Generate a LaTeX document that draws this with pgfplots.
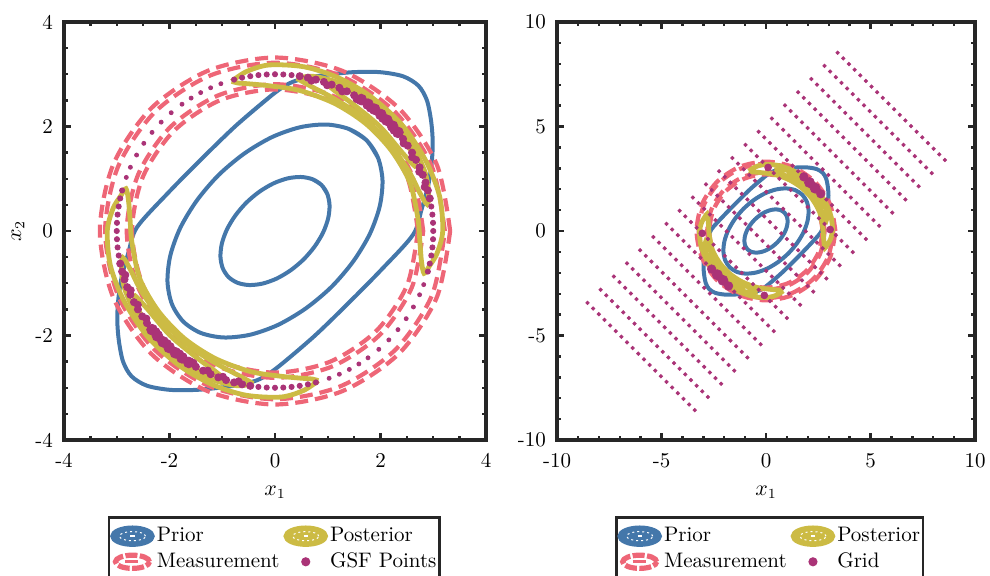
\documentclass[border=0pt]{standalone}
\usepackage{pgfplots}
\pgfplotsset{compat=1.18}
\usepackage{pgfplotstable}
\definecolor{tolblue}{HTML}{4477AA}
\definecolor{tolyellow}{HTML}{CCBB44}
\definecolor{tolred}{HTML}{EE6677}
\definecolor{tolpurple}{HTML}{AA3377}

% prior contours
\pgfplotstableread[row sep=\\]{x y\\
0.991 0.711\\ 0.881 0.881\\ 0.711 0.991\\ 0.492 1.034\\ 0.239 1.007\\ -0.030 0.911\\ -0.296 0.752\\ -0.543 0.543\\ -0.752 0.296\\ -0.911 0.030\\ -1.007 -0.239\\ -1.034 -0.492\\ -0.991 -0.711\\ -0.881 -0.881\\ -0.711 -0.991\\ -0.492 -1.034\\ -0.239 -1.007\\ 0.030 -0.911\\ 0.296 -0.752\\ 0.543 -0.543\\ 0.752 -0.296\\ 0.911 -0.030\\ 1.007 0.239\\ 1.034 0.492\\ 0.991 0.711\\ 0.881 0.881\\ 0.711 0.991\\
}\priorA
\pgfplotstableread[row sep=\\]{x y\\
1.953 1.401\\ 1.736 1.736\\ 1.401 1.953\\ 0.970 2.038\\ 0.471 1.985\\ -0.059 1.796\\ -0.583 1.482\\ -1.070 1.070\\ -1.482 0.583\\ -1.796 0.059\\ -1.985 -0.471\\ -2.038 -0.970\\ -1.953 -1.401\\ -1.736 -1.736\\ -1.401 -1.953\\ -0.970 -2.038\\ -0.471 -1.985\\ 0.059 -1.796\\ 0.583 -1.482\\ 1.070 -1.070\\ 1.482 -0.583\\ 1.796 -0.059\\ 1.985 0.471\\ 2.038 0.970\\ 1.953 1.401\\ 1.736 1.736\\ 1.401 1.953\\
}\priorB
\pgfplotstableread[row sep=\\]{x y\\
-1.386 1.386\\ -0.742 2.015\\ -0.057 2.602\\ 0.28 2.83\\ 0.60 2.93\\ 0.98 2.99\\ 1.48 3.04\\ 1.99 3.04\\ 2.43 2.96\\ 2.72 2.78\\ 2.88 2.50\\ 2.96 2.10\\ 2.99 1.70\\ 2.97 1.30\\ 2.90 0.85\\ 2.78 0.42\\ 2.617 -0.071\\ 2.015 -0.742\\ 1.386 -1.386\\ 0.742 -2.015\\ 0.057 -2.602\\ -0.28 -2.83\\ -0.60 -2.93\\ -0.98 -2.99\\ -1.48 -3.04\\ -1.99 -3.04\\ -2.43 -2.96\\ -2.72 -2.78\\ -2.88 -2.50\\ -2.96 -2.10\\ -2.99 -1.70\\ -2.97 -1.30\\ -2.90 -0.85\\ -2.78 -0.42\\ -2.617 0.071\\ -2.015 0.742\\ -1.386 1.386\\ -0.742 2.015\\ -0.057 2.602\\
}\priorC

% measurement rings
\pgfplotstableread[row sep=\\]{x y\\
2.71 0\\ 2.504 1.037\\ 1.916 1.916\\ 1.037 2.504\\ 0 2.71\\ -1.037 2.504\\ -1.916 1.916\\ -2.504 1.037\\ -2.71 0\\ -2.504 -1.037\\ -1.916 -1.916\\ -1.037 -2.504\\ 0 -2.71\\ 1.037 -2.504\\ 1.916 -1.916\\ 2.504 -1.037\\ 2.71 0\\
}\measA
\pgfplotstableread[row sep=\\]{x y\\
2.81 0\\ 2.596 1.075\\ 1.987 1.987\\ 1.075 2.596\\ 0 2.81\\ -1.075 2.596\\ -1.987 1.987\\ -2.596 1.075\\ -2.81 0\\ -2.596 -1.075\\ -1.987 -1.987\\ -1.075 -2.596\\ 0 -2.81\\ 1.075 -2.596\\ 1.987 -1.987\\ 2.596 -1.075\\ 2.81 0\\
}\measB
\pgfplotstableread[row sep=\\]{x y\\
3.22 0\\ 2.975 1.232\\ 2.277 2.277\\ 1.232 2.975\\ 0 3.22\\ -1.232 2.975\\ -2.277 2.277\\ -2.975 1.232\\ -3.22 0\\ -2.975 -1.232\\ -2.277 -2.277\\ -1.232 -2.975\\ 0 -3.22\\ 1.232 -2.975\\ 2.277 -2.277\\ 2.975 -1.232\\ 3.22 0\\
}\measC
\pgfplotstableread[row sep=\\]{x y\\
3.32 0\\ 3.067 1.271\\ 2.348 2.348\\ 1.271 3.067\\ 0 3.32\\ -1.271 3.067\\ -2.348 2.348\\ -3.067 1.271\\ -3.32 0\\ -3.067 -1.271\\ -2.348 -2.348\\ -1.271 -3.067\\ 0 -3.32\\ 1.271 -3.067\\ 2.348 -2.348\\ 3.067 -1.271\\ 3.32 0\\
}\measD

% posterior contours
\pgfplotstableread[row sep=\\]{x y\\
-0.821 2.865\\ -0.538 3.053\\ -0.111 3.178\\ 0.554 3.142\\ 1.187 2.939\\ 1.807 2.580\\ 2.413 2.025\\ 2.864 1.335\\ 3.120 0.663\\ 3.180 0\\ 3.070 -0.431\\ 2.923 -0.675\\ 2.826 -0.810\\ 2.778 -0.590\\ 2.749 -0.241\\ 2.710 0.237\\ 2.556 0.930\\ 2.204 1.543\\ 1.723 2.053\\ 1.137 2.438\\ 0.474 2.688\\ -0.097 2.778\\ -0.496 2.817\\ -0.706 2.833\\ -0.821 2.865\\
}\postAu
\pgfplotstableread[row sep=\\]{x y\\
0.821 -2.865\\ 0.538 -3.053\\ 0.111 -3.178\\ -0.554 -3.142\\ -1.187 -2.939\\ -1.807 -2.580\\ -2.413 -2.025\\ -2.864 -1.335\\ -3.120 -0.663\\ -3.180 0\\ -3.070 0.431\\ -2.923 0.675\\ -2.826 0.810\\ -2.778 0.590\\ -2.749 0.241\\ -2.710 -0.237\\ -2.556 -0.930\\ -2.204 -1.543\\ -1.723 -2.053\\ -1.137 -2.438\\ -0.474 -2.688\\ 0.097 -2.778\\ 0.496 -2.817\\ 0.706 -2.833\\ 0.821 -2.865\\
}\postAl
\pgfplotstableread[row sep=\\]{x y\\
0.411 2.921\\ 0.738 2.959\\ 1.306 2.800\\ 1.993 2.375\\ 2.531 1.772\\ 2.837 1.146\\ 2.911 0.726\\ 2.885 0.509\\ 2.743 0.735\\ 2.520 1.175\\ 2.099 1.761\\ 1.572 2.245\\ 1.041 2.578\\ 0.689 2.765\\ 0.411 2.921\\
}\postBu
\pgfplotstableread[row sep=\\]{x y\\
-0.411 -2.921\\ -0.738 -2.959\\ -1.306 -2.800\\ -1.993 -2.375\\ -2.531 -1.772\\ -2.837 -1.146\\ -2.911 -0.726\\ -2.885 -0.509\\ -2.743 -0.735\\ -2.520 -1.175\\ -2.099 -1.761\\ -1.572 -2.245\\ -1.041 -2.578\\ -0.689 -2.765\\ -0.411 -2.921\\
}\postBl
\pgfplotstableread[row sep=\\]{x y\\
1.012 2.782\\ 1.427 2.684\\ 1.967 2.344\\ 2.396 1.872\\ 2.631 1.399\\ 2.655 1.238\\ 2.408 1.505\\ 1.994 1.994\\ 1.505 2.408\\ 1.179 2.649\\ 1.012 2.782\\
}\postCu
\pgfplotstableread[row sep=\\]{x y\\
-1.012 -2.782\\ -1.427 -2.684\\ -1.967 -2.344\\ -2.396 -1.872\\ -2.631 -1.399\\ -2.655 -1.238\\ -2.408 -1.505\\ -1.994 -1.994\\ -1.505 -2.408\\ -1.179 -2.649\\ -1.012 -2.782\\
}\postCl

% GSF points, grouped by marker size
\pgfplotstableread[row sep=\\]{x y\\
-1.026 2.819\\ -1.220 2.741\\ -1.409 2.649\\ -1.590 2.544\\ -1.763 2.427\\ -1.968 2.264\\ -2.158 2.084\\ -2.331 1.888\\ -2.487 1.678\\ -2.624 1.454\\ -2.741 1.220\\ -2.819 1.026\\
1.026 -2.819\\ 1.220 -2.741\\ 1.409 -2.649\\ 1.590 -2.544\\ 1.763 -2.427\\ 1.968 -2.264\\ 2.158 -2.084\\ 2.331 -1.888\\ 2.487 -1.678\\ 2.624 -1.454\\ 2.741 -1.220\\ 2.819 -1.026\\
}\gsfTiny
\pgfplotstableread[row sep=\\]{x y\\
-0.776 2.898\\ -0.624 2.934\\ -0.469 2.963\\ -0.314 2.984\\ -0.157 2.996\\ 0 3\\ 0.157 2.996\\ 0.314 2.984\\
2.963 0.469\\ 2.984 0.314\\ 2.996 0.157\\ 3 0\\ 2.996 -0.157\\ 2.984 -0.314\\ 2.963 -0.469\\ 2.934 -0.624\\ 2.898 -0.776\\
0.776 -2.898\\ 0.624 -2.934\\ 0.469 -2.963\\ 0.314 -2.984\\ 0.157 -2.996\\ 0 -3\\ -0.157 -2.996\\ -0.314 -2.984\\
-2.963 -0.469\\ -2.984 -0.314\\ -2.996 -0.157\\ -3 0\\ -2.996 0.157\\ -2.984 0.314\\ -2.963 0.469\\ -2.934 0.624\\ -2.898 0.776\\
}\gsfSmall
\pgfplotstableread[row sep=\\]{x y\\
0.469 2.963\\ 0.624 2.934\\ 0.776 2.898\\ 0.927 2.853\\ 1.075 2.801\\ 1.220 2.741\\ 1.362 2.673\\ 1.5 2.598\\
2.427 1.763\\ 2.516 1.634\\ 2.598 1.5\\ 2.673 1.362\\ 2.741 1.220\\ 2.801 1.075\\ 2.853 0.927\\ 2.898 0.776\\ 2.934 0.624\\
0.691 2.878\\ 0.988 2.790\\ 1.274 2.672\\ 1.547 2.524\\ 1.802 2.348\\ 2.038 2.147\\ 2.251 1.922\\ 2.439 1.677\\ 2.601 1.413\\ 2.735 1.133\\ 2.838 0.841\\
-0.469 -2.963\\ -0.624 -2.934\\ -0.776 -2.898\\ -0.927 -2.853\\ -1.075 -2.801\\ -1.220 -2.741\\ -1.362 -2.673\\ -1.5 -2.598\\
-2.427 -1.763\\ -2.516 -1.634\\ -2.598 -1.5\\ -2.673 -1.362\\ -2.741 -1.220\\ -2.801 -1.075\\ -2.853 -0.927\\ -2.898 -0.776\\ -2.934 -0.624\\
-0.691 -2.878\\ -0.988 -2.790\\ -1.274 -2.672\\ -1.547 -2.524\\ -1.802 -2.348\\ -2.038 -2.147\\ -2.251 -1.922\\ -2.439 -1.677\\ -2.601 -1.413\\ -2.735 -1.133\\ -2.838 -0.841\\
}\gsfMed
\pgfplotstableread[row sep=\\]{x y\\
1.634 2.516\\ 1.763 2.427\\ 1.888 2.331\\ 2.007 2.229\\ 2.121 2.121\\ 2.229 2.007\\ 2.331 1.888\\
-1.634 -2.516\\ -1.763 -2.427\\ -1.888 -2.331\\ -2.007 -2.229\\ -2.121 -2.121\\ -2.229 -2.007\\ -2.331 -1.888\\
}\gsfLarge

% grid (20 x 20)
\pgfplotstableread[row sep=\\]{x y\\
3.43 8.53\\ 3.70 8.26\\ 3.97 7.99\\ 4.24 7.72\\ 4.51 7.45\\ 4.78 7.18\\ 5.05 6.91\\ 5.32 6.64\\ 5.59 6.37\\ 5.86 6.10\\ 6.13 5.83\\ 6.40 5.56\\ 6.67 5.29\\ 6.94 5.02\\ 7.21 4.75\\ 7.48 4.48\\ 7.75 4.21\\ 8.02 3.94\\ 8.29 3.67\\ 8.56 3.40\\
2.80 7.90\\ 3.07 7.63\\ 3.34 7.36\\ 3.61 7.09\\ 3.88 6.82\\ 4.15 6.55\\ 4.42 6.28\\ 4.69 6.01\\ 4.96 5.74\\ 5.23 5.47\\ 5.50 5.20\\ 5.77 4.93\\ 6.04 4.66\\ 6.31 4.39\\ 6.58 4.12\\ 6.85 3.85\\ 7.12 3.58\\ 7.39 3.31\\ 7.66 3.04\\ 7.93 2.77\\
2.17 7.27\\ 2.44 7.00\\ 2.71 6.73\\ 2.98 6.46\\ 3.25 6.19\\ 3.52 5.92\\ 3.79 5.65\\ 4.06 5.38\\ 4.33 5.11\\ 4.60 4.84\\ 4.87 4.57\\ 5.14 4.30\\ 5.41 4.03\\ 5.68 3.76\\ 5.95 3.49\\ 6.22 3.22\\ 6.49 2.95\\ 6.76 2.68\\ 7.03 2.41\\ 7.30 2.14\\
1.54 6.64\\ 1.81 6.37\\ 2.08 6.10\\ 2.35 5.83\\ 2.62 5.56\\ 2.89 5.29\\ 3.16 5.02\\ 3.43 4.75\\ 3.70 4.48\\ 3.97 4.21\\ 4.24 3.94\\ 4.51 3.67\\ 4.78 3.40\\ 5.05 3.13\\ 5.32 2.86\\ 5.59 2.59\\ 5.86 2.32\\ 6.13 2.05\\ 6.40 1.78\\ 6.67 1.51\\
0.91 6.01\\ 1.18 5.74\\ 1.45 5.47\\ 1.72 5.20\\ 1.99 4.93\\ 2.26 4.66\\ 2.53 4.39\\ 2.80 4.12\\ 3.07 3.85\\ 3.34 3.58\\ 3.61 3.31\\ 3.88 3.04\\ 4.15 2.77\\ 4.42 2.50\\ 4.69 2.23\\ 4.96 1.96\\ 5.23 1.69\\ 5.50 1.42\\ 5.77 1.15\\ 6.04 0.88\\
0.28 5.38\\ 0.55 5.11\\ 0.82 4.84\\ 1.09 4.57\\ 1.36 4.30\\ 1.63 4.03\\ 1.90 3.76\\ 2.17 3.49\\ 2.44 3.22\\ 2.71 2.95\\ 2.98 2.68\\ 3.25 2.41\\ 3.52 2.14\\ 3.79 1.87\\ 4.06 1.60\\ 4.33 1.33\\ 4.60 1.06\\ 4.87 0.79\\ 5.14 0.52\\ 5.41 0.25\\
-0.35 4.75\\ -0.08 4.48\\ 0.19 4.21\\ 0.46 3.94\\ 0.73 3.67\\ 1.00 3.40\\ 1.27 3.13\\ 1.54 2.86\\ 1.81 2.59\\ 2.08 2.32\\ 2.35 2.05\\ 2.62 1.78\\ 2.89 1.51\\ 3.16 1.24\\ 3.43 0.97\\ 3.70 0.70\\ 3.97 0.43\\ 4.24 0.16\\ 4.51 -0.11\\ 4.78 -0.38\\
-0.98 4.12\\ -0.71 3.85\\ -0.44 3.58\\ -0.17 3.31\\ 0.10 3.04\\ 0.37 2.77\\ 0.64 2.50\\ 0.91 2.23\\ 1.18 1.96\\ 1.45 1.69\\ 1.72 1.42\\ 1.99 1.15\\ 2.26 0.88\\ 2.53 0.61\\ 2.80 0.34\\ 3.07 0.07\\ 3.34 -0.20\\ 3.61 -0.47\\ 3.88 -0.74\\ 4.15 -1.01\\
-1.61 3.49\\ -1.34 3.22\\ -1.07 2.95\\ -0.80 2.68\\ -0.53 2.41\\ -0.26 2.14\\ 0.01 1.87\\ 0.28 1.60\\ 0.55 1.33\\ 0.82 1.06\\ 1.09 0.79\\ 1.36 0.52\\ 1.63 0.25\\ 1.90 -0.02\\ 2.17 -0.29\\ 2.44 -0.56\\ 2.71 -0.83\\ 2.98 -1.10\\ 3.25 -1.37\\ 3.52 -1.64\\
-2.24 2.86\\ -1.97 2.59\\ -1.70 2.32\\ -1.43 2.05\\ -1.16 1.78\\ -0.89 1.51\\ -0.62 1.24\\ -0.35 0.97\\ -0.08 0.70\\ 0.19 0.43\\ 0.46 0.16\\ 0.73 -0.11\\ 1.00 -0.38\\ 1.27 -0.65\\ 1.54 -0.92\\ 1.81 -1.19\\ 2.08 -1.46\\ 2.35 -1.73\\ 2.62 -2.00\\ 2.89 -2.27\\
-2.87 2.23\\ -2.60 1.96\\ -2.33 1.69\\ -2.06 1.42\\ -1.79 1.15\\ -1.52 0.88\\ -1.25 0.61\\ -0.98 0.34\\ -0.71 0.07\\ -0.44 -0.20\\ -0.17 -0.47\\ 0.10 -0.74\\ 0.37 -1.01\\ 0.64 -1.28\\ 0.91 -1.55\\ 1.18 -1.82\\ 1.45 -2.09\\ 1.72 -2.36\\ 1.99 -2.63\\ 2.26 -2.90\\
-3.50 1.60\\ -3.23 1.33\\ -2.96 1.06\\ -2.69 0.79\\ -2.42 0.52\\ -2.15 0.25\\ -1.88 -0.02\\ -1.61 -0.29\\ -1.34 -0.56\\ -1.07 -0.83\\ -0.80 -1.10\\ -0.53 -1.37\\ -0.26 -1.64\\ 0.01 -1.91\\ 0.28 -2.18\\ 0.55 -2.45\\ 0.82 -2.72\\ 1.09 -2.99\\ 1.36 -3.26\\ 1.63 -3.53\\
-4.13 0.97\\ -3.86 0.70\\ -3.59 0.43\\ -3.32 0.16\\ -3.05 -0.11\\ -2.78 -0.38\\ -2.51 -0.65\\ -2.24 -0.92\\ -1.97 -1.19\\ -1.70 -1.46\\ -1.43 -1.73\\ -1.16 -2.00\\ -0.89 -2.27\\ -0.62 -2.54\\ -0.35 -2.81\\ -0.08 -3.08\\ 0.19 -3.35\\ 0.46 -3.62\\ 0.73 -3.89\\ 1.00 -4.16\\
-4.76 0.34\\ -4.49 0.07\\ -4.22 -0.20\\ -3.95 -0.47\\ -3.68 -0.74\\ -3.41 -1.01\\ -3.14 -1.28\\ -2.87 -1.55\\ -2.60 -1.82\\ -2.33 -2.09\\ -2.06 -2.36\\ -1.79 -2.63\\ -1.52 -2.90\\ -1.25 -3.17\\ -0.98 -3.44\\ -0.71 -3.71\\ -0.44 -3.98\\ -0.17 -4.25\\ 0.10 -4.52\\ 0.37 -4.79\\
-5.39 -0.29\\ -5.12 -0.56\\ -4.85 -0.83\\ -4.58 -1.10\\ -4.31 -1.37\\ -4.04 -1.64\\ -3.77 -1.91\\ -3.50 -2.18\\ -3.23 -2.45\\ -2.96 -2.72\\ -2.69 -2.99\\ -2.42 -3.26\\ -2.15 -3.53\\ -1.88 -3.80\\ -1.61 -4.07\\ -1.34 -4.34\\ -1.07 -4.61\\ -0.80 -4.88\\ -0.53 -5.15\\ -0.26 -5.42\\
-6.02 -0.92\\ -5.75 -1.19\\ -5.48 -1.46\\ -5.21 -1.73\\ -4.94 -2.00\\ -4.67 -2.27\\ -4.40 -2.54\\ -4.13 -2.81\\ -3.86 -3.08\\ -3.59 -3.35\\ -3.32 -3.62\\ -3.05 -3.89\\ -2.78 -4.16\\ -2.51 -4.43\\ -2.24 -4.70\\ -1.97 -4.97\\ -1.70 -5.24\\ -1.43 -5.51\\ -1.16 -5.78\\ -0.89 -6.05\\
-6.65 -1.55\\ -6.38 -1.82\\ -6.11 -2.09\\ -5.84 -2.36\\ -5.57 -2.63\\ -5.30 -2.90\\ -5.03 -3.17\\ -4.76 -3.44\\ -4.49 -3.71\\ -4.22 -3.98\\ -3.95 -4.25\\ -3.68 -4.52\\ -3.41 -4.79\\ -3.14 -5.06\\ -2.87 -5.33\\ -2.60 -5.60\\ -2.33 -5.87\\ -2.06 -6.14\\ -1.79 -6.41\\ -1.52 -6.68\\
-7.28 -2.18\\ -7.01 -2.45\\ -6.74 -2.72\\ -6.47 -2.99\\ -6.20 -3.26\\ -5.93 -3.53\\ -5.66 -3.80\\ -5.39 -4.07\\ -5.12 -4.34\\ -4.85 -4.61\\ -4.58 -4.88\\ -4.31 -5.15\\ -4.04 -5.42\\ -3.77 -5.69\\ -3.50 -5.96\\ -3.23 -6.23\\ -2.96 -6.50\\ -2.69 -6.77\\ -2.42 -7.04\\ -2.15 -7.31\\
-7.91 -2.81\\ -7.64 -3.08\\ -7.37 -3.35\\ -7.10 -3.62\\ -6.83 -3.89\\ -6.56 -4.16\\ -6.29 -4.43\\ -6.02 -4.70\\ -5.75 -4.97\\ -5.48 -5.24\\ -5.21 -5.51\\ -4.94 -5.78\\ -4.67 -6.05\\ -4.40 -6.32\\ -4.13 -6.59\\ -3.86 -6.86\\ -3.59 -7.13\\ -3.32 -7.40\\ -3.05 -7.67\\ -2.78 -7.94\\
-8.54 -3.44\\ -8.27 -3.71\\ -8.00 -3.98\\ -7.73 -4.25\\ -7.46 -4.52\\ -7.19 -4.79\\ -6.92 -5.06\\ -6.65 -5.33\\ -6.38 -5.60\\ -6.11 -5.87\\ -5.84 -6.14\\ -5.57 -6.41\\ -5.30 -6.68\\ -5.03 -6.95\\ -4.76 -7.22\\ -4.49 -7.49\\ -4.22 -7.76\\ -3.95 -8.03\\ -3.68 -8.30\\ -3.41 -8.57\\
}\gridpts
% grid points carrying most posterior weight
\pgfplotstableread[row sep=\\]{x y\\
2.08 2.32\\ 2.35 2.05\\ -2.33 -2.09\\ -2.06 -2.36\\
}\gridL
\pgfplotstableread[row sep=\\]{x y\\
1.81 2.59\\ 2.62 1.78\\ -2.60 -1.82\\ -1.79 -2.63\\
}\gridM
\pgfplotstableread[row sep=\\]{x y\\
0.10 3.04\\ 3.07 0.07\\ -3.05 -0.11\\ -0.08 -3.08\\
}\gridS

\pgfplotsset{
  panel/.style={
    scale only axis, height=209pt,
    axis on top,
    axis line style={line width=1.6pt, black!85},
    tick style={line width=1.2pt, black!85},
    major tick length=3.5pt, minor tick length=2.2pt,
    font=\fontsize{10.5}{12.6}\selectfont,
    xticklabel style={yshift=-3pt},
    yticklabel style={xshift=-2pt},
    xlabel style={at={(axis description cs:0.5,-0.125)}, anchor=center},
    legend columns=2,
    legend cell align=left,
    legend style={anchor=north west, draw=black!85, line width=1.3pt, fill=white,
      inner xsep=0.5pt, inner ysep=3pt, font=\fontsize{10.5}{12.6}\selectfont,
      nodes={inner xsep=1pt, inner ysep=1.5pt, text height=7.8pt, text depth=2pt},
      /tikz/every even column/.append style={column sep=1pt}},
  },
  priorline/.style={tolblue, line width=2pt, smooth, forget plot},
  postline/.style={tolyellow, line width=2.4pt, smooth, forget plot},
  measline/.style={tolred, line width=2.1pt, smooth, dash pattern=on 6.5pt off 3.5pt, forget plot},
  dots/.style={only marks, mark=*, tolpurple, mark size=#1, forget plot},
  priorleg/.style={legend image code/.code={
    \fill[tolblue] (10.5pt,0pt) ellipse [x radius=10.5pt, y radius=4.7pt];
    \draw[white, line width=0.5pt, dash pattern=on 1pt off 1.5pt] (10.5pt,0pt) ellipse [x radius=6.5pt, y radius=2.3pt];
    \draw[white, line width=0.7pt] (9.4pt,0pt) -- (11.6pt,0pt);}},
  postleg/.style={legend image code/.code={
    \fill[tolyellow] (10.5pt,0pt) ellipse [x radius=10.5pt, y radius=4.7pt];
    \draw[white, line width=0.5pt, dash pattern=on 1pt off 1.5pt] (10.5pt,0pt) ellipse [x radius=6.5pt, y radius=2.3pt];
    \draw[white, line width=0.7pt] (9.4pt,0pt) -- (11.6pt,0pt);}},
  measleg/.style={legend image code/.code={
    \draw[tolred, line width=2.6pt, dash pattern=on 6pt off 1.2pt] (10.5pt,0pt) ellipse [x radius=8.5pt, y radius=3.3pt];
    \draw[tolred, line width=1.6pt] (7pt,0pt) -- (13.5pt,0pt);}},
  ptleg/.style={legend image code/.code={\fill[tolpurple] (10.5pt,0pt) circle (1.6pt);}},
}

\begin{document}
\begin{tikzpicture}
\path[use as bounding box] (0,0) rectangle (495pt,287.5pt);

\begin{axis}[panel,
  at={(32pt,67.5pt)}, anchor=south west, width=211pt,
  xmin=-4, xmax=4, ymin=-4, ymax=4,
  xtick={-4,-2,0,2,4}, ytick={-4,-2,0,2,4},
  xticklabels={-4,-2,0,2,4}, yticklabels={-4,-2,0,2,4},
  minor x tick num=3, minor y tick num=3,
  xlabel={$x_1$}, ylabel={$x_2$},
  ylabel style={at={(axis description cs:-0.109,0.5)}, anchor=center},
  legend style={at={(axis description cs:0.104,-0.182)}},
]
\addplot[priorline] table {\priorA};
\addplot[priorline] table {\priorB};
\addplot[priorline] table {\priorC};
\addplot[measline] table {\measA};
\addplot[measline] table {\measB};
\addplot[measline] table {\measC};
\addplot[measline] table {\measD};
\addplot[postline] table {\postAu};
\addplot[postline] table {\postAl};
\addplot[postline] table {\postBu};
\addplot[postline] table {\postBl};
\addplot[postline] table {\postCu};
\addplot[postline] table {\postCl};
\addplot[dots=1.0pt] table {\gsfTiny};
\addplot[dots=1.3pt] table {\gsfSmall};
\addplot[dots=1.8pt] table {\gsfMed};
\addplot[dots=2.7pt] table {\gsfLarge};
\addlegendimage{priorleg}\addlegendentry{Prior}
\addlegendimage{postleg}\addlegendentry{Posterior}
\addlegendimage{measleg}\addlegendentry{Measurement}
\addlegendimage{ptleg}\addlegendentry{GSF Points}
\end{axis}

\begin{axis}[panel,
  at={(278.5pt,67.5pt)}, anchor=south west, width=209pt,
  xmin=-10, xmax=10, ymin=-10, ymax=10,
  xtick={-10,-5,0,5,10}, ytick={-10,-5,0,5,10},
  xticklabels={-10,-5,0,5,10}, yticklabels={-10,-5,0,5,10},
  minor x tick num=4, minor y tick num=4,
  xlabel={$x_1$},
  legend style={at={(axis description cs:0.139,-0.182)}},
]
\addplot[priorline] table {\priorA};
\addplot[priorline] table {\priorB};
\addplot[priorline] table {\priorC};
\addplot[measline] table {\measA};
\addplot[measline] table {\measB};
\addplot[measline] table {\measC};
\addplot[measline] table {\measD};
\addplot[postline] table {\postAu};
\addplot[postline] table {\postAl};
\addplot[postline] table {\postBu};
\addplot[postline] table {\postBl};
\addplot[postline] table {\postCu};
\addplot[postline] table {\postCl};
\addplot[dots=0.85pt] table {\gridpts};
\addplot[dots=1.7pt] table {\gridS};
\addplot[dots=2.1pt] table {\gridM};
\addplot[dots=2.5pt] table {\gridL};
\addlegendimage{priorleg}\addlegendentry{Prior}
\addlegendimage{postleg}\addlegendentry{Posterior}
\addlegendimage{measleg}\addlegendentry{Measurement}
\addlegendimage{ptleg}\addlegendentry{Grid}
\end{axis}
\end{tikzpicture}
\end{document}
